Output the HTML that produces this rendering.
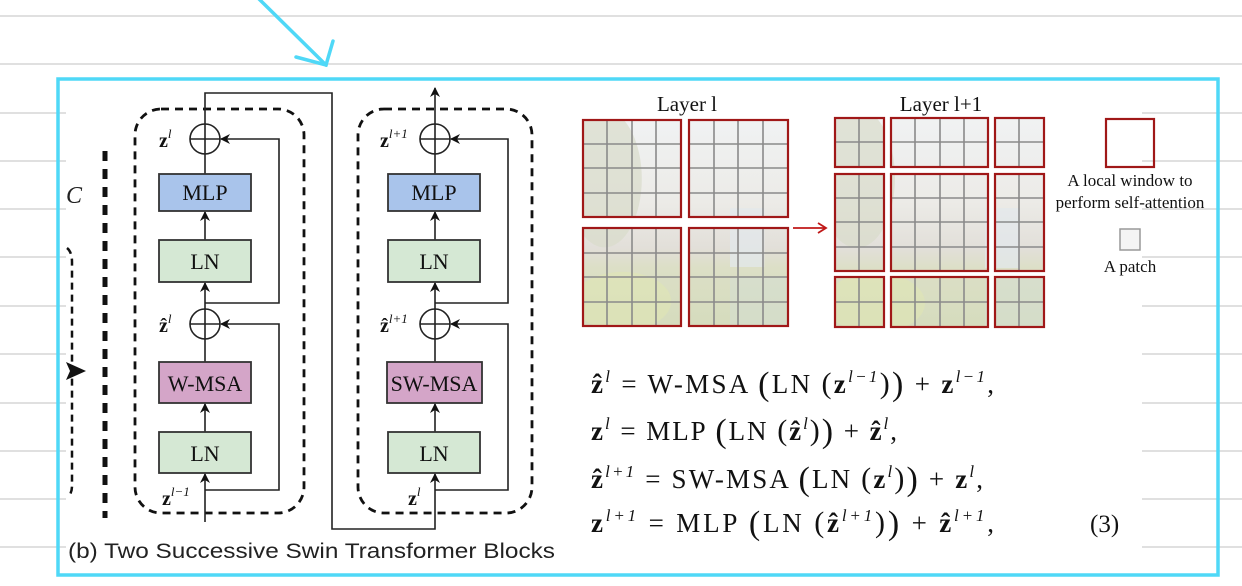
<!DOCTYPE html>
<html><head><meta charset="utf-8">
<style>
html,body{margin:0;padding:0;background:#fff;}
#c{position:relative;width:1242px;height:586px;overflow:hidden;background:#fff;}
</style></head><body>
<div id="c">
<svg width="1242" height="586" viewBox="0 0 1242 586" style="position:absolute;left:0;top:0">
<defs>
<marker id="ah" viewBox="0 0 10 10" refX="9" refY="5" markerWidth="10" markerHeight="10" markerUnits="userSpaceOnUse" orient="auto">
<path d="M0,0 L10,5 L0,10 L3,5 Z" fill="#111"/></marker>
<linearGradient id="ph" x1="0" y1="0" x2="0" y2="1">
<stop offset="0" stop-color="#f0f2f3"/><stop offset="0.4" stop-color="#ecebe7"/>
<stop offset="0.62" stop-color="#e2dfd9"/><stop offset="0.72" stop-color="#dcdfc6"/>
<stop offset="1" stop-color="#d5dcbd"/></linearGradient>
<g id="photo">
<rect x="0" y="0" width="210" height="210" fill="url(#ph)"/>
<ellipse cx="22" cy="60" rx="38" ry="70" fill="#d8dccb" opacity="0.7"/>
<rect x="150" y="90" width="35" height="60" fill="#e3e8ec" opacity="0.7"/>
<rect x="150" y="160" width="60" height="50" fill="#d3ded4" opacity="0.5"/>
<ellipse cx="40" cy="185" rx="50" ry="30" fill="#e0e6b4" opacity="0.6"/>
</g>
</defs>
<g stroke="#d6d6d6" stroke-width="1.5">
<line x1="0" y1="16" x2="1242" y2="16"/><line x1="0" y1="64" x2="1242" y2="64"/>
<line x1="0" y1="113" x2="1242" y2="113"/><line x1="0" y1="161" x2="1242" y2="161"/>
<line x1="0" y1="209" x2="1242" y2="209"/><line x1="0" y1="257" x2="1242" y2="257"/>
<line x1="0" y1="306" x2="1242" y2="306"/><line x1="0" y1="354" x2="1242" y2="354"/>
<line x1="0" y1="403" x2="1242" y2="403"/><line x1="0" y1="451" x2="1242" y2="451"/>
<line x1="0" y1="499" x2="1242" y2="499"/><line x1="0" y1="547" x2="1242" y2="547"/>
</g>
<rect x="66" y="82" width="1076" height="491" fill="#fff"/>
<rect x="58" y="79" width="1160" height="496" fill="none" stroke="#4fd8f7" stroke-width="3.5"/>
<g stroke="#4fd8f7" stroke-width="3.5" fill="none" stroke-linecap="round">
<line x1="258" y1="-2" x2="326" y2="65"/><polyline points="296,57 326,65 333,41"/>
</g>
<text x="66" y="203" font-family="Liberation Serif,serif" font-style="italic" font-size="24" fill="#222">C</text>
<path d="M67,248 Q72,252 72,262 L72,486 Q72,492 69,496" fill="none" stroke="#111" stroke-width="2.5" stroke-dasharray="7,5"/>
<path d="M66,362 L86,371 L66,380 L70,371 Z" fill="#111"/>
<line x1="105" y1="151" x2="105" y2="518" stroke="#111" stroke-width="5" stroke-dasharray="10,8"/>
<rect x="135" y="109" width="169" height="404" rx="26" fill="none" stroke="#111" stroke-width="2.8" stroke-dasharray="8,6"/>
<rect x="358" y="109" width="174" height="404" rx="26" fill="none" stroke="#111" stroke-width="2.8" stroke-dasharray="8,6"/>
<g stroke="#222" stroke-width="1.6" fill="none">
<line x1="205" y1="522" x2="205" y2="474" marker-end="url(#ah)"/>
<line x1="205" y1="432" x2="205" y2="404" marker-end="url(#ah)"/>
<line x1="205" y1="362" x2="205" y2="339"/>
<line x1="205" y1="309" x2="205" y2="283" marker-end="url(#ah)"/>
<line x1="205" y1="240" x2="205" y2="212" marker-end="url(#ah)"/>
<line x1="205" y1="174" x2="205" y2="154"/>
<polyline points="205,124 205,93 332,93 332,529 435,529 435,474" marker-end="url(#ah)"/>
<polyline points="205,303 279,303 279,139 221,139" marker-end="url(#ah)"/>
<polyline points="205,490 279,490 279,324 221,324" marker-end="url(#ah)"/>
<circle cx="205" cy="139" r="15"/><line x1="190" y1="139" x2="220" y2="139"/><line x1="205" y1="124" x2="205" y2="154"/>
<circle cx="205" cy="324" r="15"/><line x1="190" y1="324" x2="220" y2="324"/><line x1="205" y1="309" x2="205" y2="339"/>
<line x1="435" y1="432" x2="435" y2="404" marker-end="url(#ah)"/>
<line x1="435" y1="362" x2="435" y2="339"/>
<line x1="435" y1="309" x2="435" y2="283" marker-end="url(#ah)"/>
<line x1="435" y1="240" x2="435" y2="212" marker-end="url(#ah)"/>
<line x1="435" y1="174" x2="435" y2="154"/>
<line x1="435" y1="124" x2="435" y2="88" marker-end="url(#ah)"/>
<polyline points="435,303 508,303 508,139 451,139" marker-end="url(#ah)"/>
<polyline points="435,490 508,490 508,324 451,324" marker-end="url(#ah)"/>
<circle cx="435" cy="139" r="15"/><line x1="420" y1="139" x2="450" y2="139"/><line x1="435" y1="124" x2="435" y2="154"/>
<circle cx="435" cy="324" r="15"/><line x1="420" y1="324" x2="450" y2="324"/><line x1="435" y1="309" x2="435" y2="339"/>
</g>
<g stroke="#333" stroke-width="1.8">
<rect x="159" y="174" width="92" height="37" fill="#a9c4eb"/>
<rect x="159" y="240" width="92" height="42" fill="#d5e8d4"/>
<rect x="159" y="362" width="92" height="41" fill="#d4a5c8"/>
<rect x="159" y="432" width="92" height="41" fill="#d5e8d4"/>
<rect x="388" y="174" width="92" height="37" fill="#a9c4eb"/>
<rect x="388" y="240" width="92" height="42" fill="#d5e8d4"/>
<rect x="387" y="362" width="95" height="41" fill="#d4a5c8"/>
<rect x="388" y="432" width="92" height="41" fill="#d5e8d4"/>
</g>
<g font-family="Liberation Serif,serif" font-size="22" text-anchor="middle" fill="#111">
<text x="205" y="200">MLP</text><text x="205" y="269">LN</text>
<text x="205" y="391">W-MSA</text><text x="205" y="461">LN</text>
<text x="434" y="200">MLP</text><text x="434" y="269">LN</text>
<text x="434" y="391">SW-MSA</text><text x="434" y="461">LN</text>
</g>
<g font-family="Liberation Serif,serif" fill="#111">
<text x="159" y="147" font-size="20" font-weight="bold">z<tspan font-size="13" font-style="italic" font-weight="normal" dy="-9">l</tspan></text>
<text x="159" y="332" font-size="20" font-weight="bold">ẑ<tspan font-size="13" font-style="italic" font-weight="normal" dy="-9">l</tspan></text>
<text x="162" y="505" font-size="20" font-weight="bold">z<tspan font-size="13" font-style="italic" font-weight="normal" dy="-9">l−1</tspan></text>
<text x="380" y="147" font-size="20" font-weight="bold">z<tspan font-size="13" font-style="italic" font-weight="normal" dy="-9">l+1</tspan></text>
<text x="380" y="332" font-size="20" font-weight="bold">ẑ<tspan font-size="13" font-style="italic" font-weight="normal" dy="-9">l+1</tspan></text>
<text x="408" y="505" font-size="20" font-weight="bold">z<tspan font-size="13" font-style="italic" font-weight="normal" dy="-9">l</tspan></text>
</g>
<text x="68" y="558" font-family="Liberation Sans,sans-serif" font-size="21" fill="#222" textLength="487" lengthAdjust="spacingAndGlyphs">(b) Two Successive Swin Transformer Blocks</text>
<g font-family="Liberation Serif,serif" font-size="21" fill="#111" text-anchor="middle">
<text x="687" y="111">Layer l</text><text x="941" y="111">Layer l+1</text>
<text x="1130" y="186" font-size="17">A local window to</text>
<text x="1130" y="208" font-size="17">perform self-attention</text>
<text x="1130" y="272" font-size="17">A patch</text>
</g>
<clipPath id="c1"><rect x="583" y="120" width="205" height="206"/></clipPath>
<clipPath id="c2"><rect x="835" y="118" width="209" height="209"/></clipPath>
<g clip-path="url(#c1)"><use href="#photo" transform="translate(583,120) scale(0.98)"/></g>
<g clip-path="url(#c2)"><use href="#photo" transform="translate(835,118)"/></g>
<g stroke="#8a8a8a" stroke-width="1.6">
<line x1="607" y1="120" x2="607" y2="217"/><line x1="632" y1="120" x2="632" y2="217"/><line x1="656" y1="120" x2="656" y2="217"/>
<line x1="607" y1="228" x2="607" y2="326"/><line x1="632" y1="228" x2="632" y2="326"/><line x1="656" y1="228" x2="656" y2="326"/>
<line x1="714" y1="120" x2="714" y2="217"/><line x1="738" y1="120" x2="738" y2="217"/><line x1="763" y1="120" x2="763" y2="217"/>
<line x1="714" y1="228" x2="714" y2="326"/><line x1="738" y1="228" x2="738" y2="326"/><line x1="763" y1="228" x2="763" y2="326"/>
<line x1="583" y1="144" x2="788" y2="144"/><line x1="583" y1="168" x2="788" y2="168"/><line x1="583" y1="193" x2="788" y2="193"/>
<line x1="583" y1="253" x2="788" y2="253"/><line x1="583" y1="277" x2="788" y2="277"/><line x1="583" y1="302" x2="788" y2="302"/>
<line x1="859" y1="118" x2="859" y2="327"/><line x1="915" y1="118" x2="915" y2="327"/><line x1="940" y1="118" x2="940" y2="327"/><line x1="964" y1="118" x2="964" y2="327"/><line x1="1019" y1="118" x2="1019" y2="327"/>
<line x1="835" y1="142" x2="1044" y2="142"/><line x1="835" y1="198" x2="1044" y2="198"/><line x1="835" y1="222" x2="1044" y2="222"/><line x1="835" y1="247" x2="1044" y2="247"/><line x1="835" y1="302" x2="1044" y2="302"/>
</g>
<rect x="681" y="118" width="8" height="210" fill="#fff"/><rect x="581" y="217" width="210" height="11" fill="#fff"/>
<g fill="#fff"><rect x="884" y="116" width="7" height="212"/><rect x="988" y="116" width="7" height="212"/><rect x="833" y="167" width="213" height="7"/><rect x="833" y="271" width="213" height="6"/></g>
<g fill="none" stroke="#a01818" stroke-width="2.2">
<rect x="583" y="120" width="98" height="97"/><rect x="689" y="120" width="99" height="97"/>
<rect x="583" y="228" width="98" height="98"/><rect x="689" y="228" width="99" height="98"/>
<rect x="835" y="118" width="49" height="49"/><rect x="891" y="118" width="97" height="49"/><rect x="995" y="118" width="49" height="49"/>
<rect x="835" y="174" width="49" height="97"/><rect x="891" y="174" width="97" height="97"/><rect x="995" y="174" width="49" height="97"/>
<rect x="835" y="277" width="49" height="50"/><rect x="891" y="277" width="97" height="50"/><rect x="995" y="277" width="49" height="50"/>
<rect x="1106" y="119" width="48" height="48"/>
</g>
<rect x="1120" y="229" width="20" height="21" fill="#f4f4f4" stroke="#999" stroke-width="1.5"/>
<g stroke="#c01818" stroke-width="1.8" fill="none"><line x1="793" y1="228" x2="825" y2="228"/><polyline points="818,223 826,228 818,233"/></g>
<g font-family="Liberation Serif,serif" font-size="27" fill="#111">
<text x="591" y="393" textLength="403" lengthAdjust="spacing"><tspan font-weight="bold">ẑ</tspan><tspan font-size="17" font-style="italic" dy="-11">l</tspan><tspan dy="11"> = W-MSA </tspan><tspan font-size="34" dy="2">(</tspan><tspan dy="-2">LN </tspan><tspan font-size="30">(</tspan><tspan font-weight="bold">z</tspan><tspan font-size="17" font-style="italic" dy="-11">l−1</tspan><tspan font-size="30" dy="11">)</tspan><tspan font-size="34" dy="2">)</tspan><tspan dy="-2"> + </tspan><tspan font-weight="bold">z</tspan><tspan font-size="17" font-style="italic" dy="-11">l−1</tspan><tspan dy="11">,</tspan></text>
<text x="591" y="440" textLength="306" lengthAdjust="spacing"><tspan font-weight="bold">z</tspan><tspan font-size="17" font-style="italic" dy="-11">l</tspan><tspan dy="11"> = MLP </tspan><tspan font-size="34" dy="2">(</tspan><tspan dy="-2">LN </tspan><tspan font-size="30">(</tspan><tspan font-weight="bold">ẑ</tspan><tspan font-size="17" font-style="italic" dy="-11">l</tspan><tspan font-size="30" dy="11">)</tspan><tspan font-size="34" dy="2">)</tspan><tspan dy="-2"> + </tspan><tspan font-weight="bold">ẑ</tspan><tspan font-size="17" font-style="italic" dy="-11">l</tspan><tspan dy="11">,</tspan></text>
<text x="591" y="488" textLength="392" lengthAdjust="spacing"><tspan font-weight="bold">ẑ</tspan><tspan font-size="17" font-style="italic" dy="-11">l+1</tspan><tspan dy="11"> = SW-MSA </tspan><tspan font-size="34" dy="2">(</tspan><tspan dy="-2">LN </tspan><tspan font-size="30">(</tspan><tspan font-weight="bold">z</tspan><tspan font-size="17" font-style="italic" dy="-11">l</tspan><tspan font-size="30" dy="11">)</tspan><tspan font-size="34" dy="2">)</tspan><tspan dy="-2"> + </tspan><tspan font-weight="bold">z</tspan><tspan font-size="17" font-style="italic" dy="-11">l</tspan><tspan dy="11">,</tspan></text>
<text x="591" y="532" textLength="403" lengthAdjust="spacing"><tspan font-weight="bold">z</tspan><tspan font-size="17" font-style="italic" dy="-11">l+1</tspan><tspan dy="11"> = MLP </tspan><tspan font-size="34" dy="2">(</tspan><tspan dy="-2">LN </tspan><tspan font-size="30">(</tspan><tspan font-weight="bold">ẑ</tspan><tspan font-size="17" font-style="italic" dy="-11">l+1</tspan><tspan font-size="30" dy="11">)</tspan><tspan font-size="34" dy="2">)</tspan><tspan dy="-2"> + </tspan><tspan font-weight="bold">ẑ</tspan><tspan font-size="17" font-style="italic" dy="-11">l+1</tspan><tspan dy="11">,</tspan></text>
<text x="1090" y="532" font-size="25">(3)</text>
</g>
</svg>
</div>
</body></html>
